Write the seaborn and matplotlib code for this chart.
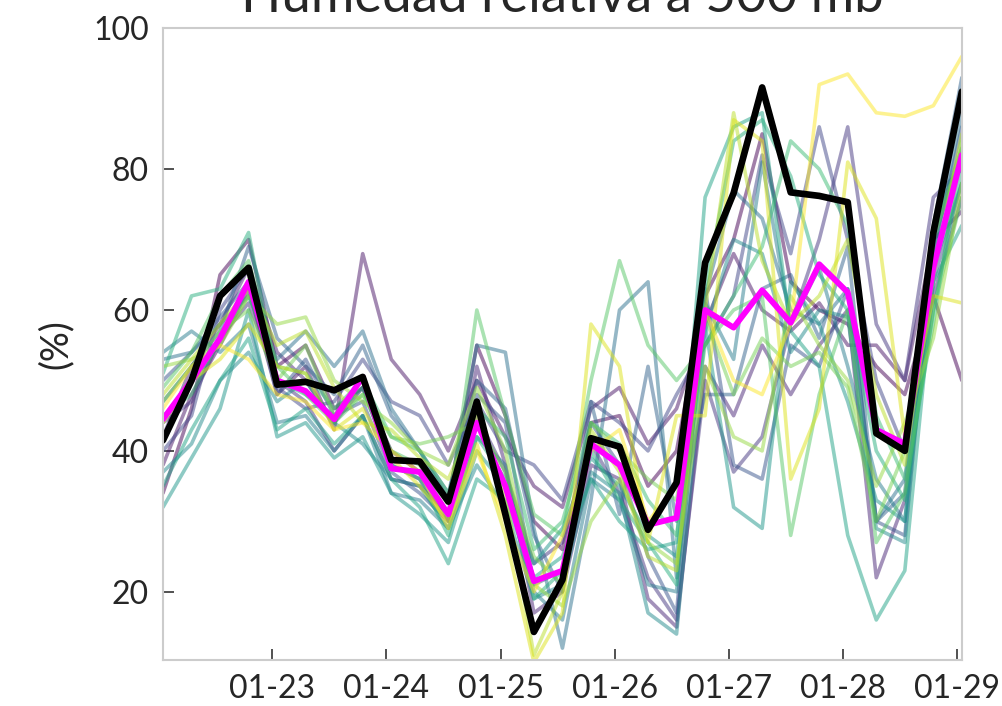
import numpy as np
import pandas as pd
import matplotlib
matplotlib.use("Agg")
import matplotlib.pyplot as plt
import matplotlib.dates as mdates
import seaborn as sns

# --- datos: humedad relativa a 500 mb (%), pasos de 6 h ---
fechas = pd.date_range("2024-01-22 01:00", periods=29, freq="6h")

control = [41.5, 50, 62, 66, 49.4, 49.8, 48.6, 50.5, 38.7, 38.5, 32.8, 47, 31, 14.3, 21.7,
           41.8, 40.6, 28.8, 35.5, 66.7, 76.6, 91.6, 76.7, 76.2, 75.3, 42.5, 40, 71, 91]
media = [44.5, 50, 56, 64, 50, 48.5, 44.5, 50.5, 37.5, 37, 31, 44, 35, 21.5, 23,
         41, 38, 29.5, 30.5, 60, 57.5, 62.8, 58.2, 66.5, 62.5, 43, 41, 66, 82]

miembros = [
    [34, 46, 65, 70, 52, 55, 46, 49, 40, 37, 33, 55, 45, 30, 26, 44, 45, 35, 40, 62, 70, 85, 64, 60, 58, 52, 48, 62, 50],
    [38, 48, 55, 63, 48, 52, 43, 68, 53, 48, 40, 50, 42, 35, 32, 46, 49, 41, 46, 58, 68, 60, 57, 61, 55, 55, 50, 70, 74],
    [42, 52, 58, 66, 54, 50, 44, 49, 38, 36, 30, 52, 38, 17, 20, 38, 36, 19, 15, 52, 45, 55, 48, 55, 60, 22, 33, 62, 76],
    [44, 47, 56, 61, 50, 47, 40, 45, 36, 35, 31, 45, 37, 24, 27, 41, 34, 22, 16, 50, 37, 42, 58, 70, 86, 58, 50, 76, 80],
    [40, 45, 60, 66, 49, 46, 47, 53, 47, 45, 38, 47, 40, 38, 33, 47, 44, 40, 48, 55, 62, 82, 68, 86, 70, 50, 40, 64, 78],
    [50, 54, 59, 64, 48, 53, 45, 47, 37, 34, 30, 48, 44, 21, 23, 44, 38, 25, 17, 63, 38, 36, 55, 52, 63, 30, 28, 68, 86],
    [47, 52, 57, 69, 56, 52, 48, 55, 45, 40, 34, 50, 46, 28, 20, 47, 31, 52, 30, 48, 48, 63, 65, 56, 69, 30, 34, 72, 93],
    [53, 54, 58, 62, 53, 57, 52, 57, 46, 40, 33, 55, 54, 29, 12, 33, 60, 64, 22, 62, 77, 73, 60, 58, 63, 30, 36, 68, 88],
    [54, 57, 54, 58, 44, 45, 40, 45, 34, 33, 29, 42, 38, 20, 16, 36, 33, 21, 20, 61, 53, 81, 58, 66, 52, 36, 30, 70, 82],
    [37, 41, 50, 54, 47, 50, 44, 41, 36, 35, 29, 38, 32, 19, 21, 37, 34, 17, 14, 57, 70, 68, 54, 60, 59, 29, 27, 71, 83],
    [32, 39, 46, 60, 42, 44, 39, 42, 34, 31, 27, 40, 35, 24, 29, 39, 35, 28, 25, 58, 32, 29, 64, 58, 47, 33, 30, 66, 78],
    [35, 43, 50, 56, 43, 46, 41, 45, 36, 32, 24, 36, 33, 22, 25, 36, 30, 26, 27, 76, 86, 88, 57, 52, 28, 16, 23, 64, 72],
    [51, 62, 63, 71, 50, 48, 45, 49, 38, 36, 28, 42, 36, 19, 23, 40, 33, 27, 21, 63, 84, 87, 79, 65, 60, 40, 33, 60, 80],
    [45, 48, 56, 62, 52, 51, 46, 50, 42, 40, 34, 46, 42, 26, 30, 44, 41, 33, 28, 55, 62, 69, 84, 80, 72, 45, 36, 58, 84],
    [49, 54, 62, 67, 52, 48, 44, 48, 40, 38, 31, 60, 45, 31, 28, 50, 67, 55, 50, 55, 60, 62, 28, 48, 60, 27, 34, 60, 76],
    [47, 52, 57, 60, 50, 55, 45, 48, 42, 41, 42, 44, 37, 25, 21, 44, 40, 36, 33, 59, 48, 56, 52, 54, 49, 30, 40, 70, 83],
    [52, 53, 55, 62, 58, 59, 50, 47, 44, 40, 38, 49, 40, 21, 18, 30, 36, 27, 24, 52, 42, 40, 62, 55, 50, 35, 44, 56, 78],
    [48, 53, 58, 63, 55, 57, 49, 44, 43, 39, 36, 45, 34, 11, 20, 43, 37, 25, 23, 60, 88, 67, 58, 62, 70, 48, 38, 65, 85],
    [44, 50, 53, 58, 52, 51, 43, 46, 39, 35, 30, 41, 28, 10, 17, 58, 52, 27, 45, 45, 87, 84, 36, 46, 81, 73, 42, 62, 61],
    [46, 52, 55, 53, 48, 47, 43, 44, 40, 37, 29, 40, 30, 20, 28, 40, 43, 30, 35, 60, 50, 48, 58, 92, 93.5, 88, 87.5, 89, 96],
]

df = pd.DataFrame({
    "fecha": np.tile(fechas, len(miembros)),
    "hr": np.concatenate(miembros),
    "miembro": np.repeat(np.arange(len(miembros)), len(fechas)),
})

sns.set_theme(style="white")
plt.rcParams["font.family"] = ["Lato", "DejaVu Sans"]
plt.rcParams["text.color"] = "#262626"

fig = plt.figure(figsize=(10.03, 7.06), dpi=100)
ax = fig.add_axes([0.1625, 0.065, 0.7965, 0.895])

sns.lineplot(data=df, x="fecha", y="hr", hue="miembro", palette="viridis",
             estimator=None, alpha=0.5, lw=2.6, legend=False, ax=ax)
sns.lineplot(x=fechas, y=media, color="magenta", lw=4.2, ax=ax)
sns.lineplot(x=fechas, y=control, color="black", lw=4.8, ax=ax)

ax.set_xlim(fechas[0], fechas[-1])
ax.set_ylim(10.3, 100)
ax.set_yticks([20, 40, 60, 80, 100])
ax.xaxis.set_major_locator(mdates.DayLocator())
ax.xaxis.set_major_formatter(mdates.DateFormatter("%m-%d"))
ax.tick_params(direction="in", length=8, width=1.2, color="#333333",
               bottom=True, left=True, labelsize=23, labelcolor="#262626", pad=10)
ax.set_xlabel("")
ax.set_ylabel("(%)", fontsize=27, labelpad=14)
for s in ax.spines.values():
    s.set_color("#cccccc")
    s.set_linewidth(1.5)

fig.text(0.561, 1 - 12 / 706, "Humedad relativa a 500 mb", ha="center",
         va="baseline", fontsize=38, color="#262626")

fig.savefig("out.png", dpi=100)
